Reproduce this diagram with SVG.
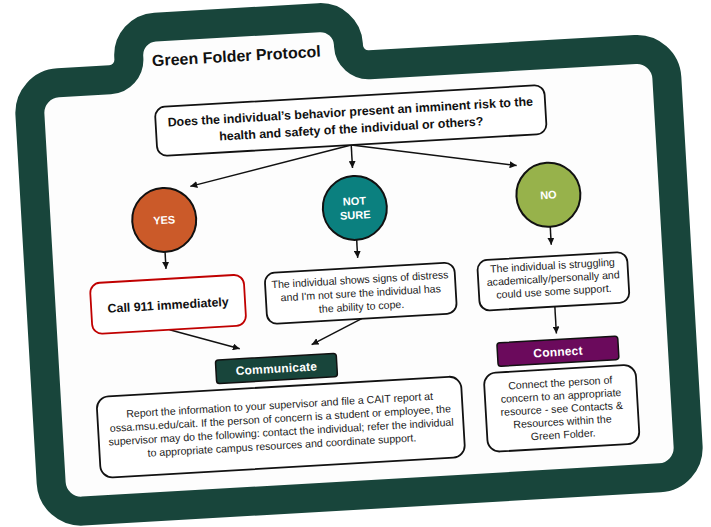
<svg xmlns="http://www.w3.org/2000/svg" width="711" height="527" viewBox="0 0 711 527">
<defs>
<style>
text{font-family:"Liberation Sans",Arial,sans-serif;text-anchor:middle;fill:#222;}
.b{font-weight:bold;}
.q{font-size:12.4px;font-weight:bold;fill:#111;}
.s{font-size:10.6px;}
.w{fill:#fff;font-weight:bold;font-size:11px;}
.lbl{fill:#fff;font-weight:bold;font-size:12px;letter-spacing:0.2px;}
.box{fill:#fff;stroke:#111;stroke-width:1.8;}
.circ{stroke:#111;stroke-width:2;}
.con line{stroke:#111;stroke-width:1.5;}
</style>
<marker id="ah" markerWidth="8" markerHeight="7" refX="7" refY="3.5" orient="auto" markerUnits="userSpaceOnUse">
<path d="M0,0 L7,3.5 L0,7 Z" fill="#111"/>
</marker>
</defs>
<rect width="711" height="527" fill="#fff"/>
<g transform="rotate(-3.3 355 263)">
<g id="folder">
<path d="M39 96 A30 30 0 0 1 69 66 L121 66 A20 20 0 0 0 141 46 L141 44 A28 28 0 0 1 169 16 L333 16 A28 28 0 0 1 361 44 L361 46 A20 20 0 0 0 381 66 L647 66 A30 30 0 0 1 677 96 L677 465 A30 30 0 0 1 647 495 L69 495 A30 30 0 0 1 39 465 Z" fill="#fdfdfd" stroke="#18453B" stroke-width="29" stroke-linejoin="round"/>
<text x="164" y="55" class="b" style="font-size:16px;text-anchor:start;fill:#111">Green Folder Protocol</text>
</g>
<g class="con" id="connectors">
<line x1="358" y1="145" x2="195" y2="177" marker-end="url(#ah)"/>
<line x1="358" y1="145" x2="358" y2="168" marker-end="url(#ah)"/>
<line x1="358" y1="145" x2="522" y2="175" marker-end="url(#ah)"/>
<line x1="166" y1="241" x2="166" y2="258" marker-end="url(#ah)"/>
<line x1="358" y1="240" x2="358" y2="258" marker-end="url(#ah)"/>
<line x1="552" y1="238" x2="552" y2="256" marker-end="url(#ah)"/>
<line x1="166" y1="319" x2="235" y2="342" marker-end="url(#ah)"/>
<line x1="358.5" y1="319" x2="307" y2="342" marker-end="url(#ah)"/>
<line x1="552" y1="318" x2="552" y2="345" marker-end="url(#ah)"/>
</g>
<g id="question">
<rect x="164" y="96" width="390" height="49" rx="10" class="box"/>
<text x="359" y="116" class="q">Does the individual’s behavior present an imminent risk to the</text>
<text x="359" y="133" class="q">health and safety of the individual or others?</text>
</g>
<g id="yes">
<circle cx="167" cy="209" r="32" fill="#CB5A29" class="circ"/>
<text x="167" y="213" class="w">YES</text>
</g>
<g id="notsure">
<circle cx="358" cy="208" r="32" fill="#0B807F" class="circ"/>
<text x="358" y="205" class="w">NOT</text>
<text x="358" y="219" class="w">SURE</text>
</g>
<g id="no">
<circle cx="552" cy="206" r="32" fill="#97B24B" class="circ"/>
<text x="552" y="210" class="w">NO</text>
</g>
<g id="call911">
<rect x="89" y="268" width="154" height="51" rx="10" fill="#fff" stroke="#C00000" stroke-width="1.8"/>
<text x="166" y="298.5" class="b" style="font-size:12.4px;fill:#111">Call 911 immediately</text>
</g>
<g id="distress">
<rect x="264" y="268" width="190" height="51" rx="10" class="box"/>
<text x="359" y="283.5" class="s">The individual shows signs of distress</text>
<text x="359" y="297" class="s">and I'm not sure the individual has</text>
<text x="359" y="310.5" class="s">the ability to cope.</text>
</g>
<g id="struggling">
<rect x="477" y="267.5" width="150" height="50.5" rx="10" class="box"/>
<text x="552" y="280.5" class="s">The individual is struggling</text>
<text x="552" y="293.5" class="s">academically/personally and</text>
<text x="552" y="306.5" class="s">could use some support.</text>
</g>
<g id="communicate">
<rect x="210" y="352" width="121" height="23.5" rx="3" fill="#18453B" stroke="#111" stroke-width="1.5"/>
<text x="270.5" y="368" class="lbl">Communicate</text>
</g>
<g id="connect">
<rect x="492" y="351" width="121" height="23.5" rx="3" fill="#6B0A5C" stroke="#111" stroke-width="1.5"/>
<text x="552.5" y="367.5" class="lbl">Connect</text>
</g>
<g id="report">
<rect x="89" y="382" width="365" height="81" rx="12" class="box"/>
<text x="271.5" y="404" class="s">Report the information to your supervisor and file a CAIT report at</text>
<text x="271.5" y="417.5" class="s">ossa.msu.edu/cait. If the person of concern is a student or employee, the</text>
<text x="271.5" y="431" class="s">supervisor may do the following: contact the individual; refer the individual</text>
<text x="271.5" y="444.5" class="s">to appropriate campus resources and coordinate support.</text>
</g>
<g id="resource">
<rect x="477" y="380.5" width="152" height="79" rx="12" class="box"/>
<text x="553" y="398" class="s">Connect the person of</text>
<text x="553" y="411" class="s">concern to an appropriate</text>
<text x="553" y="424" class="s">resource - see Contacts &amp;</text>
<text x="553" y="437" class="s">Resources within the</text>
<text x="553" y="450" class="s">Green Folder.</text>
</g>
</g>
</svg>
